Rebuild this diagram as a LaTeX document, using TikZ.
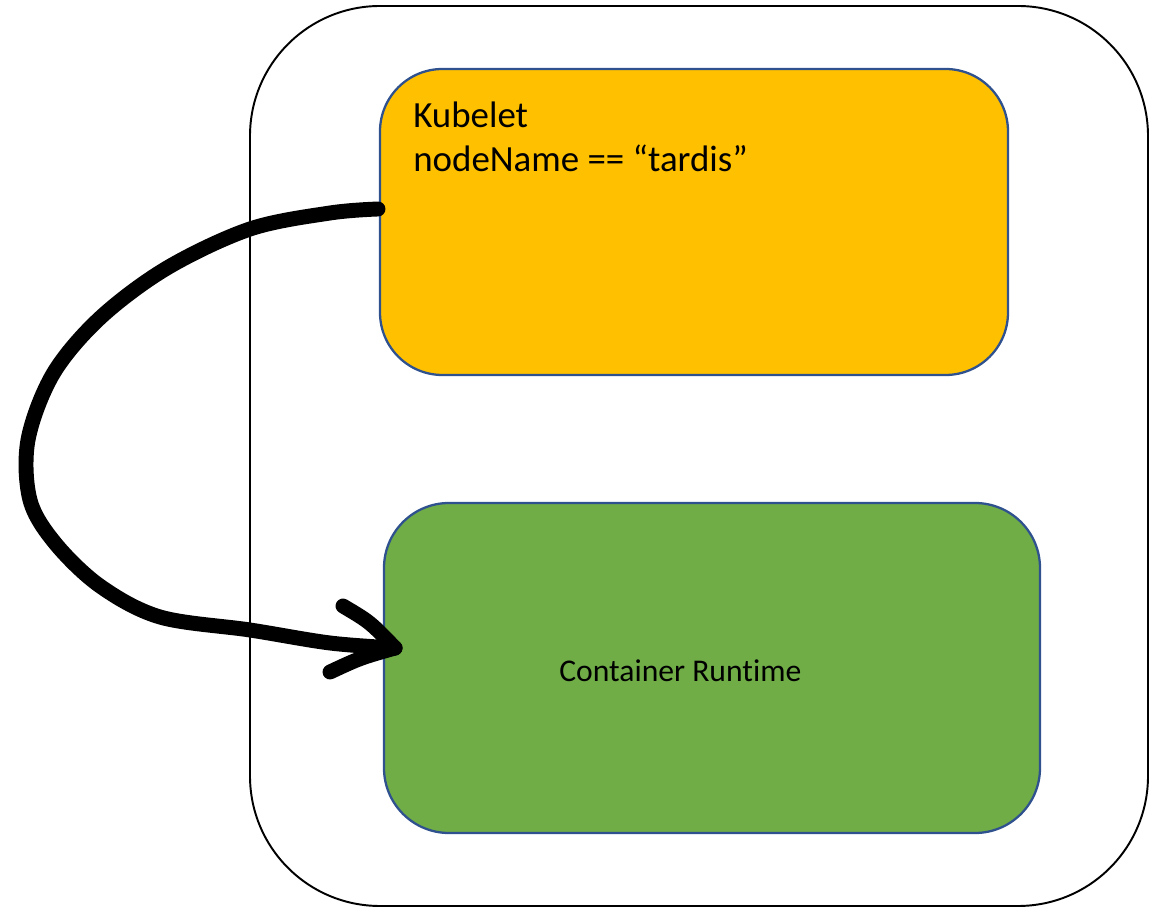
\documentclass[tikz,border=0pt]{standalone}
\usepackage{fontspec}
\setmainfont[Ligatures=NoCommon]{Carlito}
\definecolor{kubefill}{HTML}{FFC000}
\definecolor{runfill}{HTML}{70AD47}
\definecolor{boxedge}{HTML}{2F528F}
\begin{document}
\begin{tikzpicture}[x=0.02cm,y=-0.02cm,
  hostbox/.style={draw=black,line width=1.1pt,rounded corners=2.6cm},
  partbox/.style={draw=boxedge,line width=1.3pt},
  label/.style={inner sep=0pt,text=black},
  stroke/.style={line width=8.5pt,line cap=round,line join=round}]
\useasboundingbox (0,0) rectangle (1154,908);
% node host
\draw[hostbox] (250,6) rectangle (1148,906);
% kubelet box
\draw[partbox,fill=kubefill,rounded corners=1.25cm] (380,69) rectangle (1008,375);
\node (kub) at (694,222) {};
\node[label,anchor=base west,align=left,font=\fontsize{21}{25.5}\selectfont] (kubtext) at (413,172)
  {Kubelet\\nodeName == “tardis”};
% container runtime box
\draw[partbox,fill=runfill,rounded corners=1.3cm] (384,503) rectangle (1040,833);
\node (crt) at (712,668) {};
\node[label,anchor=base west,font=\fontsize{18}{22}\selectfont] (crttext) at (559,682) {Container Runtime};
% hand-drawn arrow from kubelet to runtime
\coordinate (from) at (378,209);
\coordinate (to) at (395,648);
\draw[stroke] plot[smooth,tension=0.55] coordinates {
  (from) (330,213) (250,229) (167,268) (100,318) (53,374) (28,440)
  (30,500) (55,543) (100,586) (160,617) (250,630) (330,643) (to)};
\draw[stroke] (343,606) .. controls (370,622) .. (to);
\draw[stroke] (to) .. controls (360,658) .. (330,672);
\end{tikzpicture}
\end{document}
